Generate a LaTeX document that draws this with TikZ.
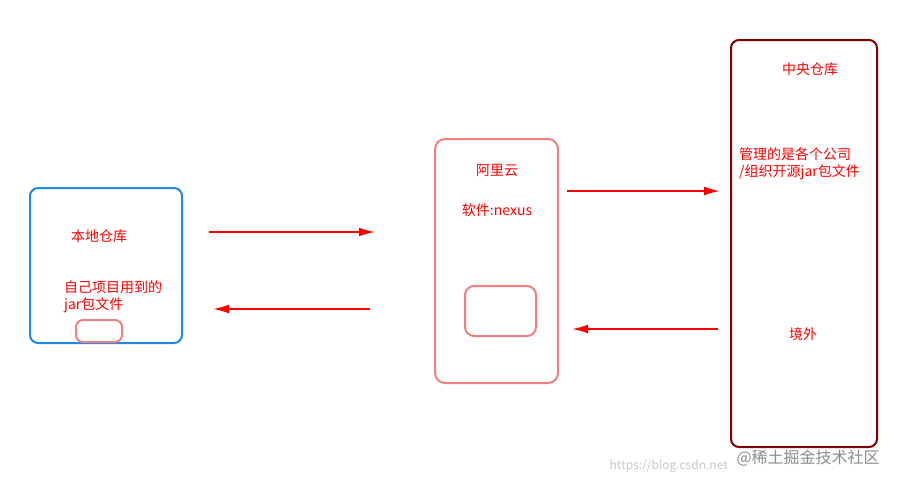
\documentclass[tikz,border=0pt]{standalone}
\usepackage{fontspec}
\setmainfont{Noto Sans CJK SC}
\usetikzlibrary{arrows.meta}
\begin{document}
\begin{tikzpicture}[x=1pt,y=-1pt,
  lbl/.style={text=red,font=\fontsize{14}{17}\selectfont,inner sep=0pt},
  arr/.style={draw=red,line width=2pt,-{Latex[length=16pt,width=9pt]}}]
\useasboundingbox (0,0) rectangle (910,485);
\draw[draw={rgb,255:red,30;green,136;blue,229},line width=2pt,rounded corners=8pt] (30,188) rectangle (182,343);
\node[lbl] (bd) at (99,236) {本地仓库};
\node[lbl,anchor=west,align=left] (zj) at (64,297) {自己项目用到的\\jar包文件};
\draw[draw={rgb,255:red,240;green,128;blue,128},line width=2pt,rounded corners=7pt] (76,320) rectangle (122,342);
\draw[draw={rgb,255:red,240;green,128;blue,128},line width=2pt,rounded corners=10pt] (435,139) rectangle (558,383);
\node[lbl] (aly) at (497,170) {阿里云};
\node[lbl] (nx) at (497,210) {软件:nexus};
\draw[draw={rgb,255:red,240;green,128;blue,128},line width=2pt,rounded corners=9pt] (465,286) rectangle (536,336);
\draw[draw={rgb,255:red,128;green,0;blue,0},line width=2pt,rounded corners=8pt] (731,40) rectangle (877,447);
\node[lbl] (zy) at (810,69) {中央仓库};
\node[lbl,anchor=west,align=left] (gl) at (739,164) {管理的是各个公司\\/组织开源jar包文件};
\node[lbl] (jw) at (803,334) {境外};
\coordinate (a1) at (209,232); \coordinate (a2) at (375,232);
\coordinate (b1) at (370,309); \coordinate (b2) at (213,309);
\coordinate (c1) at (567,191); \coordinate (c2) at (720,191);
\coordinate (d1) at (718,329); \coordinate (d2) at (572,329);
\draw[arr] (a1) -- (a2);
\draw[arr] (b1) -- (b2);
\draw[arr] (c1) -- (c2);
\draw[arr] (d1) -- (d2);
\node[text=black!22,font=\fontsize{12}{14}\selectfont,anchor=east,inner sep=0pt] (wm1) at (728,466) {https://blog.csdn.net};
\node[text=black!45,font=\fontsize{16}{18}\selectfont,anchor=west] (wm2) at (733,458) {@稀土掘金技术社区};
\end{tikzpicture}
\end{document}
